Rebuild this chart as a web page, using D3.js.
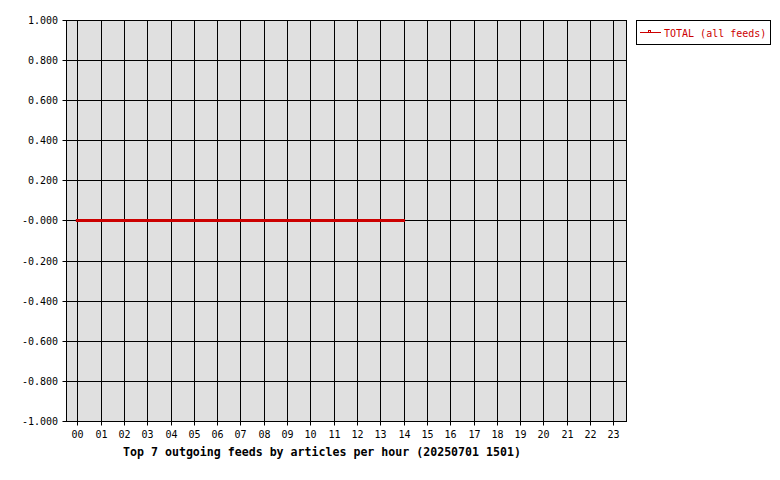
<!DOCTYPE html>
<html><head><meta charset="utf-8">
<script src="https://cdn.jsdelivr.net/npm/d3@7/dist/d3.min.js"></script>
<style>body{margin:0;background:#fff}svg{display:block}</style>
</head><body>
<svg id="c" width="780" height="480"></svg>
<script>
const hours = ["00","01","02","03","04","05","06","07","08","09","10","11","12","13","14","15","16","17","18","19","20","21","22","23"];
const totalHours = ["00","01","02","03","04","05","06","07","08","09","10","11","12","13","14"];
const totalValues = [0,0,0,0,0,0,0,0,0,0,0,0,0,0,0];
const yTickValues = [1,0.8,0.6,0.4,0.2,0,-0.2,-0.4,-0.6,-0.8,-1];
const yTickLabels = ["1.000","0.800","0.600","0.400","0.200","-0.000","-0.200","-0.400","-0.600","-0.800","-1.000"];
const seriesName = "TOTAL (all feeds)";
const title = "Top 7 outgoing feeds by articles per hour (20250701 1501)";

const svg = d3.select("#c");
const L = 66.5, R = 626.5;
const red = "#cc0000";
const mono = "'DejaVu Sans Mono', monospace";

const x = d3.scalePoint().domain(hours).range([77.33, 613.33]);
const y = d3.scaleLinear().domain([-1, 1]).range([421, 20]);
const px = v => Math.round(x(v)) + 0.5;
const py = v => Math.round(y(v) - 0.01) + 0.5;
const T = py(1), B = py(-1);

svg.append("rect").attr("x", L).attr("y", T).attr("width", R - L).attr("height", B - T)
  .attr("fill", "#e0e0e0");

// horizontal grid + y ticks
svg.append("g").selectAll("line").data(yTickValues).join("line")
  .attr("x1", L - 4).attr("x2", R).attr("y1", d => py(d)).attr("y2", d => py(d))
  .attr("stroke", "#000").attr("stroke-width", 1);
svg.append("g").selectAll("text").data(yTickValues).join("text")
  .attr("x", 58).attr("y", d => py(d) + 3.5).attr("text-anchor", "end")
  .attr("font-family", mono).attr("font-size", 10).attr("fill", "#000")
  .text((d, i) => yTickLabels[i]);

// vertical grid + x ticks
svg.append("g").selectAll("line").data(hours).join("line")
  .attr("x1", d => px(d)).attr("x2", d => px(d)).attr("y1", T).attr("y2", B + 4)
  .attr("stroke", "#000").attr("stroke-width", 1);
svg.append("g").selectAll("text").data(hours).join("text")
  .attr("x", d => px(d)).attr("y", 437.5).attr("text-anchor", "middle")
  .attr("font-family", mono).attr("font-size", 10).attr("fill", "#000")
  .text(d => d);

// border
svg.append("rect").attr("x", L).attr("y", T).attr("width", R - L).attr("height", B - T)
  .attr("fill", "none").attr("stroke", "#000").attr("stroke-width", 1);

// series line
const line = d3.line().x((d, i) => x(totalHours[i])).y(d => py(d));
svg.append("path").datum(totalValues).attr("d", line)
  .attr("fill", "none").attr("stroke", red).attr("stroke-width", 3)
  .attr("stroke-linecap", "square");

// title
svg.append("text").attr("x", 322).attr("y", 456).attr("text-anchor", "middle")
  .attr("font-family", mono).attr("font-weight", "bold").attr("font-size", 11.6)
  .attr("fill", "#000").text(title);

// legend
const lg = svg.append("g");
lg.append("rect").attr("x", 636.5).attr("y", 20.5).attr("width", 134).attr("height", 24)
  .attr("fill", "#fff").attr("stroke", "#000").attr("stroke-width", 1);
lg.append("line").attr("x1", 640).attr("x2", 661).attr("y1", 32.5).attr("y2", 32.5)
  .attr("stroke", red).attr("stroke-width", 1);
lg.append("rect").attr("x", 648.5).attr("y", 30.5).attr("width", 2).attr("height", 2)
  .attr("fill", "none").attr("stroke", red).attr("stroke-width", 1);
lg.append("text").attr("x", 664).attr("y", 37).attr("font-family", mono).attr("font-size", 10)
  .attr("fill", red).text(seriesName);
</script>
</body></html>
